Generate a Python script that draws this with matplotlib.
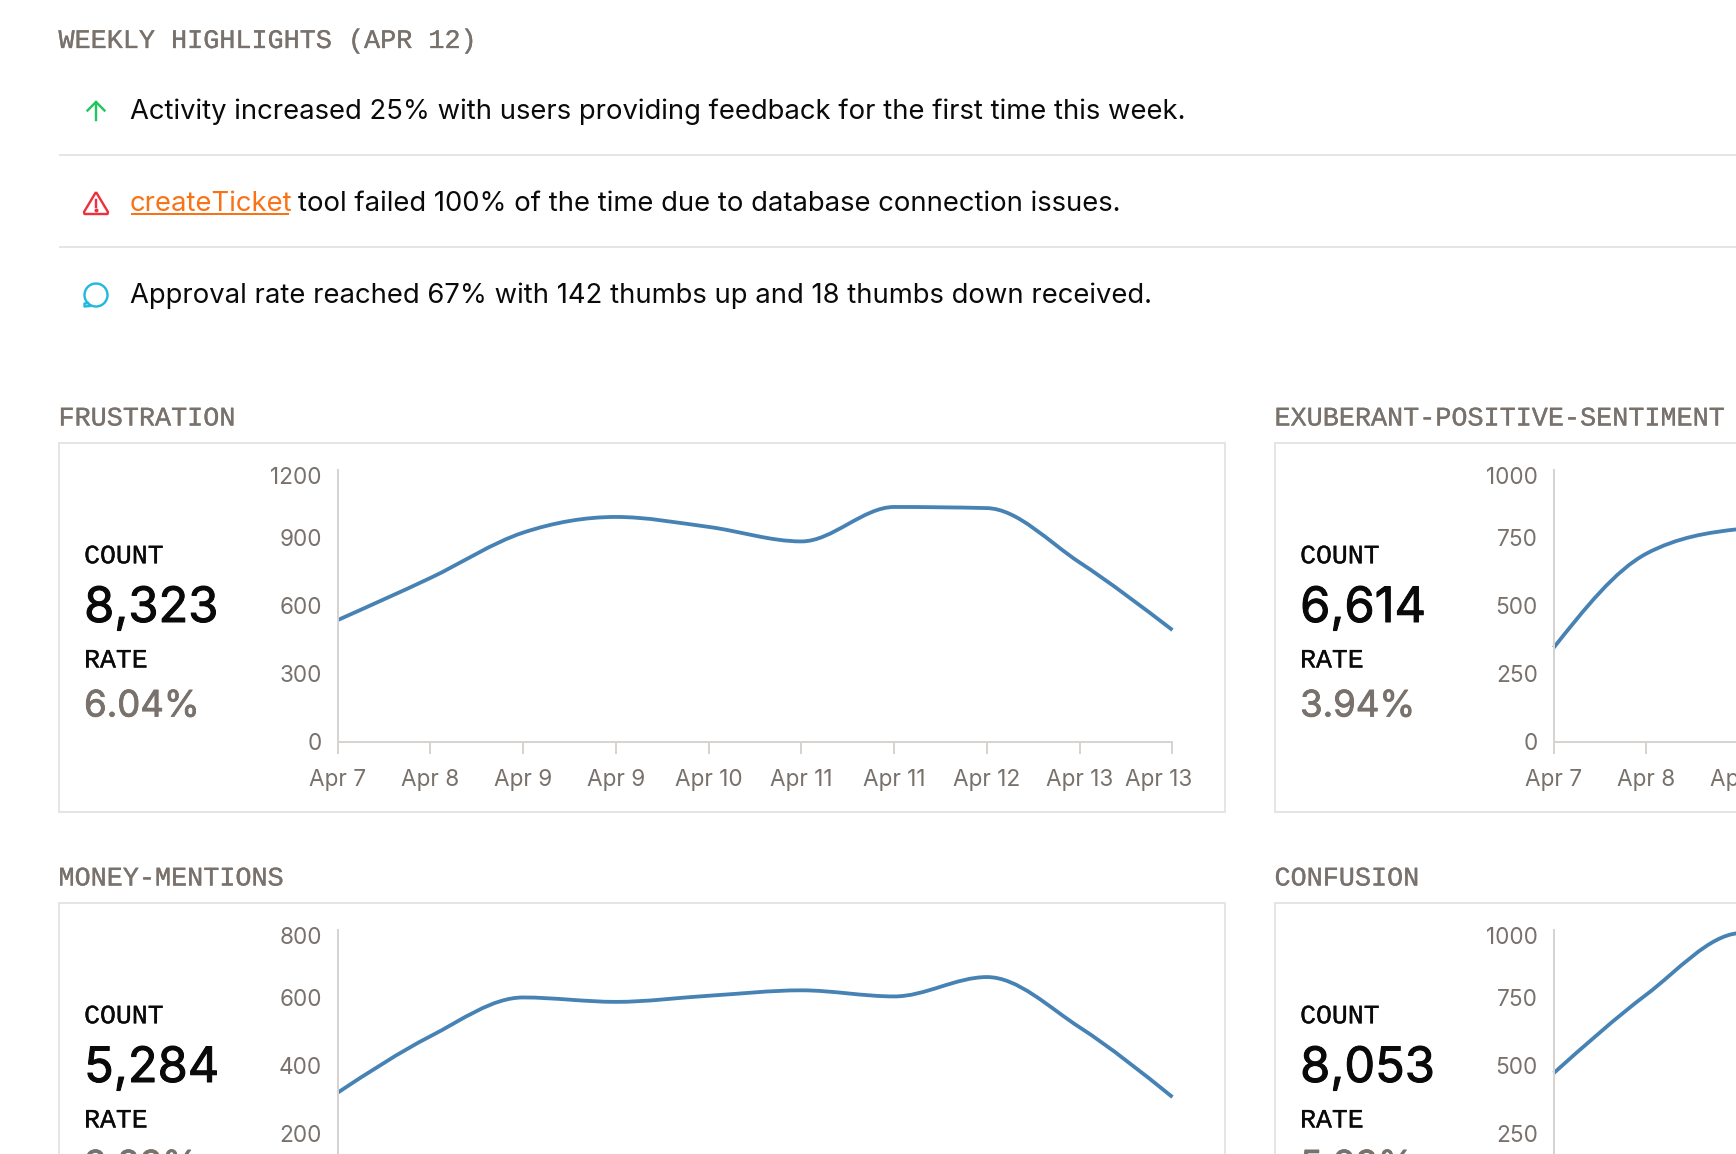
import numpy as np
import matplotlib
matplotlib.use('Agg')
import matplotlib.pyplot as plt
import matplotlib.patheffects as pe
from matplotlib.path import Path
from matplotlib.patches import PathPatch, Rectangle, Circle
from matplotlib.transforms import ScaledTranslation

W, H = 1736, 1154

GREY = '#78716c'
RULE = '#e5e5e5'
AXIS = '#d6d3d1'
LINE = '#4682b4'
INK = '#0a0a0a'
SANS = 'Inter'
MONO = 'Liberation Mono'

tick_labels = ['Apr 7', 'Apr 8', 'Apr 9', 'Apr 9', 'Apr 10', 'Apr 11', 'Apr 11', 'Apr 12', 'Apr 13', 'Apr 13']

frustration = [537, 723, 923, 992, 948, 884, 1036, 1031, 791, 493]
money = [321, 487, 601, 588, 606, 622, 604, 661, 513, 308]
# prawa kolumna jest ucieta, widac tylko poczatek serii
exuberant = [346, 692, 782, 800]
confusion = [473, 762, 988, 1000]

frustration_ticks = [0, 300, 600, 900, 1200]
money_ticks = [0, 200, 400, 600, 800]
hundred_ticks = [0, 250, 500, 750, 1000]


def px(v):
    return v * 0.72


def bolder(color, w):
    return [pe.withStroke(linewidth=px(w), foreground=color)]


def monotone_path(x, y):
    # krzywa monotoniczna jak w d3 (curveMonotoneX), odcinki Beziera
    x = np.array(x, dtype=float)
    y = np.array(y, dtype=float)
    h = np.diff(x)
    s = np.diff(y) / h
    t = np.zeros(len(x))
    for i in range(1, len(x) - 1):
        if s[i - 1] * s[i] > 0:
            p = (s[i - 1] + s[i]) / 2
            t[i] = np.sign(s[i]) * min(abs(s[i - 1]), abs(s[i]), abs(p) / 2) * 2
    t[0] = (3 * s[0] - t[1]) / 2
    t[-1] = (3 * s[-1] - t[-2]) / 2
    verts = [(x[0], y[0])]
    codes = [Path.MOVETO]
    for i in range(len(h)):
        verts += [(x[i] + h[i] / 3, y[i] + t[i] * h[i] / 3),
                  (x[i + 1] - h[i] / 3, y[i + 1] - t[i + 1] * h[i] / 3),
                  (x[i + 1], y[i + 1])]
        codes += [Path.CURVE4] * 3
    return Path(verts, codes)


fig = plt.figure(figsize=(W / 100, H / 100), dpi=100, facecolor='white')
bg = fig.add_axes([0, 0, 1, 1])
bg.set_xlim(0, W)
bg.set_ylim(H, 0)
bg.axis('off')

bg.text(58.5, 41, 'WEEKLY HIGHLIGHTS (APR 12)', family=MONO, fontsize=px(26.8), color=GREY, va='center',
        path_effects=bolder(GREY, 0.3))

row_size = px(27.45)
bg.text(130, 111.8, 'Activity increased 25% with users providing feedback for the first time this week.',
        family=SANS, fontsize=row_size, color=INK, va='center')
bg.text(130, 203.7, 'createTicket', family=SANS, fontsize=row_size, color='#f97316', va='center')
bg.text(298, 203.7, 'tool failed 100% of the time due to database connection issues.',
        family=SANS, fontsize=row_size, color=INK, va='center')
bg.text(130, 295.6, 'Approval rate reached 67% with 142 thumbs up and 18 thumbs down received.',
        family=SANS, fontsize=row_size, color=INK, va='center')
bg.plot([130.6, 289.3], [214, 214], color='#f97316', lw=px(2), solid_capstyle='butt')

for yy in [155, 247]:
    bg.plot([58.5, W], [yy, yy], color=RULE, lw=px(2), solid_capstyle='butt')

# ikony
green = '#22c55e'
bg.plot([96, 96], [102, 120], color=green, lw=px(2.4))
bg.plot([87.5, 96, 104.5], [110.5, 102, 110.5], color=green, lw=px(2.4))
red = '#ef2f3c'
tri = Path([(96, 192), (108, 212), (107.5, 214), (84.5, 214), (84, 212), (96, 192)])
bg.add_patch(PathPatch(tri, fc='none', ec=red, lw=px(2.4), joinstyle='round'))
bg.plot([96, 96], [199.5, 206.5], color=red, lw=px(2.4))
bg.plot([96], [210], 'o', color=red, ms=px(2.6))
cyan = '#22b8e0'
bg.add_patch(Circle((96, 295), 11.5, fc='none', ec=cyan, lw=px(2.4)))
bg.plot([88, 84.5, 84.5, 90], [303, 303.5, 306.5, 306], color=cyan, lw=px(2.4), solid_joinstyle='round')


def panel(col, row, title, count, rate, values, yticks):
    dx = col * 1216
    dy = row * 460
    bg.text(58.5 + dx, 418.5 + dy, title, family=MONO, fontsize=px(26.8), color=GREY, va='center',
            path_effects=bolder(GREY, 0.3))
    bg.add_patch(Rectangle((58.7 + dx, 443 + dy), 1166, 369, fc='white', ec=RULE, lw=px(2)))
    bg.text(84.1 + dx, 556.3 + dy, 'COUNT', family=MONO, fontsize=px(26.5), color=INK, va='center',
            path_effects=bolder(INK, 0.3))
    bg.text(84.1 + dx, 609 + dy, count, family=SANS, fontsize=px(48.8), color=INK, va='center',
            path_effects=bolder(INK, 1.0))
    bg.text(84.1 + dx, 660.5 + dy, 'RATE', family=MONO, fontsize=px(26.5), color=INK, va='center',
            path_effects=bolder(INK, 0.3))
    bg.text(84.1 + dx, 707 + dy, rate, family=SANS, fontsize=px(36.5), color=GREY, va='center',
            path_effects=bolder(GREY, 0.8))

    top = 469.8 + dy
    height = 272
    left = 337.7 + dx
    width = 92.75 * 9
    ax = fig.add_axes([left / W, 1 - (top + height) / H, width / W, height / H])
    ax.patch.set_alpha(0)
    ax.set_xlim(0, 9)
    ax.set_ylim(yticks[0], yticks[-1])
    for s in ['top', 'right']:
        ax.spines[s].set_visible(False)
    for s in ['left', 'bottom']:
        ax.spines[s].set_color(AXIS)
        ax.spines[s].set_linewidth(px(2))
    ax.set_yticks(yticks)
    ax.set_xticks(range(len(tick_labels)))
    ax.set_xticklabels(tick_labels)
    ax.tick_params(axis='y', length=0, pad=px(16), labelsize=px(22.6), labelcolor=GREY)
    ax.tick_params(axis='x', length=px(12), width=px(2), color=AXIS, pad=px(15), labelsize=px(22.6), labelcolor=GREY)
    for lab in ax.get_xticklabels() + ax.get_yticklabels():
        lab.set_family(SANS)
    # skrajne etykiety sa w oryginale przesuniete do srodka
    last_y = ax.get_yticklabels()[-1]
    last_y.set_transform(last_y.get_transform() + ScaledTranslation(0, -6.2 / 100, fig.dpi_scale_trans))
    last_x = ax.get_xticklabels()[-1]
    last_x.set_transform(last_x.get_transform() + ScaledTranslation(-14 / 100, 0, fig.dpi_scale_trans))

    path = monotone_path(range(len(values)), values)
    ax.add_patch(PathPatch(path, fc='none', ec=LINE, lw=px(3.8), capstyle='butt', clip_on=False))


panel(0, 0, 'FRUSTRATION', '8,323', '6.04%', frustration, frustration_ticks)
panel(1, 0, 'EXUBERANT-POSITIVE-SENTIMENT', '6,614', '3.94%', exuberant, hundred_ticks)
panel(0, 1, 'MONEY-MENTIONS', '5,284', '3.83%', money, money_ticks)
panel(1, 1, 'CONFUSION', '8,053', '5.83%', confusion, hundred_ticks)

fig.savefig('out.png', dpi=100)
